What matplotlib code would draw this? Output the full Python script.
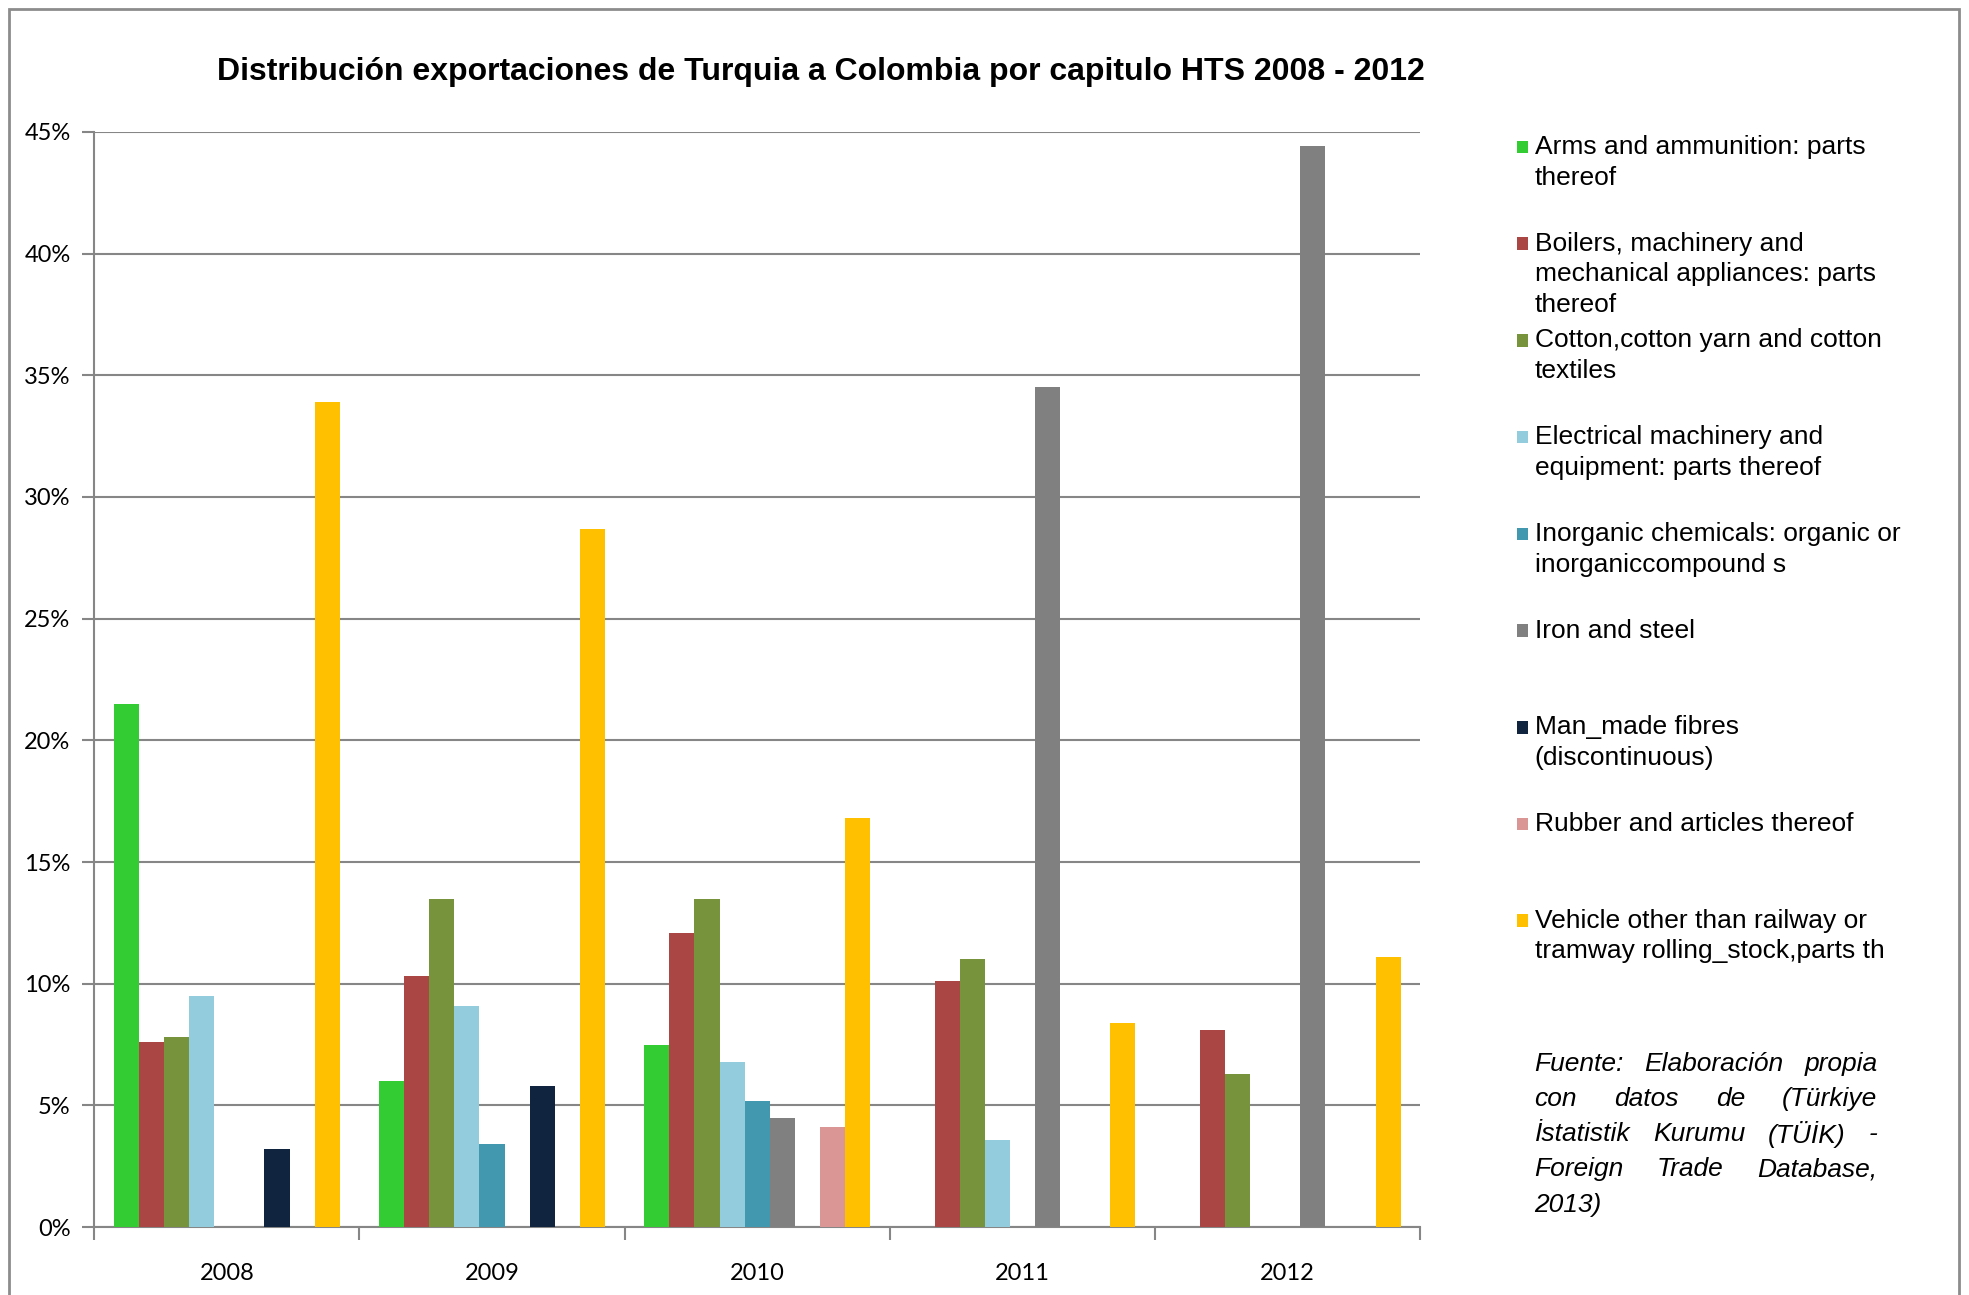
import numpy as np
import matplotlib
matplotlib.use("Agg")
import matplotlib.pyplot as plt
from matplotlib.patches import Rectangle

years = ["2008", "2009", "2010", "2011", "2012"]
series = [
    "Arms and ammunition: parts\nthereof",
    "Boilers, machinery and\nmechanical appliances: parts\nthereof",
    "Cotton,cotton yarn and cotton\ntextiles",
    "Electrical machinery and\nequipment: parts thereof",
    "Inorganic chemicals: organic or\ninorganiccompound s",
    "Iron and steel",
    "Man_made fibres\n(discontinuous)",
    "Rubber and articles thereof",
    "Vehicle other than railway or\ntramway rolling_stock,parts th",
]
colors = ["#33CC33", "#AA4643", "#77933C", "#93CDDD", "#4198AF",
          "#808080", "#10243F", "#D99694", "#FFC000"]

# percent values, one list per series (2008..2012)
arms = [21.5, 6.0, 7.5, 0, 0]
boilers = [7.6, 10.3, 12.1, 10.1, 8.1]
cotton = [7.8, 13.5, 13.5, 11.0, 6.3]
electrical = [9.5, 9.1, 6.8, 3.6, 0]
inorganic = [0, 3.4, 5.2, 0, 0]
iron = [0, 0, 4.5, 34.5, 44.4]
manmade = [3.2, 5.8, 0, 0, 0]
rubber = [0, 0, 4.1, 0, 0]
vehicle = [33.9, 28.7, 16.8, 8.4, 11.1]
values = [arms, boilers, cotton, electrical, inorganic, iron, manmade, rubber, vehicle]

source_lines = ["Fuente: Elaboración propia", "con datos de (Türkiye",
                "İstatistik Kurumu (TÜİK) -", "Foreign Trade Database,", "2013)"]

H = 1031.0  # reference layout measured on a 1568 x 1031 view
fig = plt.figure(figsize=(19.69, 12.95), dpi=100)
ax = fig.add_axes([75 / 1568, 1 - 977 / H, (1131 - 75) / 1568, (977 - 105) / H])

x = np.arange(len(years))
w = 1 / 10.56
for j, (vals, c) in enumerate(zip(values, colors)):
    ax.bar(x + (j - 4) * w, vals, w, color=c, linewidth=0, zorder=3)

ax.set_xlim(-0.5, 4.5)
ax.set_ylim(0, 45)
ax.set_yticks(np.arange(0, 46, 5))
ax.set_yticklabels([f"{v}%" for v in range(0, 46, 5)])
ax.set_xticks(x)
ax.set_xticklabels(years)
ax.set_xticks(np.arange(-0.5, 5, 1), minor=True)
ax.tick_params(axis="x", which="major", length=0, pad=26)
ax.tick_params(axis="x", which="minor", length=9, color="#868686", width=1.5)
ax.tick_params(axis="y", length=9, color="#868686", width=1.5, pad=8)
for lab in ax.get_xticklabels() + ax.get_yticklabels():
    lab.set_fontfamily("Lato")
    lab.set_fontsize(17)
ax.grid(axis="y", color="#868686", linewidth=1.5, zorder=0)
for s in ["top", "right"]:
    ax.spines[s].set_visible(False)
for s in ["left", "bottom"]:
    ax.spines[s].set_color("#868686")
    ax.spines[s].set_linewidth(1.5)

fig.text(654 / 1568, 1 - 57 / H,
         "Distribución exportaciones de Turquia a Colombia por capitulo HTS 2008 - 2012",
         ha="center", va="center", fontsize=23, fontweight="bold", family="Liberation Sans")

# legend drawn by hand: fixed spacing, marker at first line
line_h = 24.5
for i, (name, c) in enumerate(zip(series, colors)):
    y0 = 117 + 77 * i
    fig.add_artist(Rectangle((1208 / 1568, 1 - (y0 + 5) / H), 9 / 1568, 10 / H,
                             transform=fig.transFigure, color=c, linewidth=0))
    for k, line in enumerate(name.split("\n")):
        fig.text(1222 / 1568, 1 - (y0 + k * line_h) / H, line, ha="left", va="center",
                 fontsize=19, family="Liberation Sans")

# justified italic source note
renderer = fig.canvas.get_renderer()
x_left, x_right = 1222 / 1568, 1495 / 1568
fig_w = fig.get_figwidth() * fig.dpi
for k, line in enumerate(source_lines):
    y = 1 - (847 + 28 * k) / H
    words = line.split(" ")
    if k == len(source_lines) - 1:
        fig.text(x_left, y, line, ha="left", va="center", fontsize=19,
                 style="italic", family="Liberation Sans")
        continue
    texts = [fig.text(0, y, wd, ha="left", va="center", fontsize=19,
                      style="italic", family="Liberation Sans") for wd in words]
    widths = [t.get_window_extent(renderer).width / fig_w for t in texts]
    gap = (x_right - x_left - sum(widths)) / (len(words) - 1)
    pos = x_left
    for t, wdt in zip(texts, widths):
        t.set_x(pos)
        pos += wdt + gap

# outer chart frame
fig.add_artist(Rectangle((7 / 1568, -0.05), (1560 - 7) / 1568, 1.05 - 7 / H,
                         transform=fig.transFigure, fill=False,
                         edgecolor="#8c8c8c", linewidth=2))

fig.savefig("out.png", dpi=100)
